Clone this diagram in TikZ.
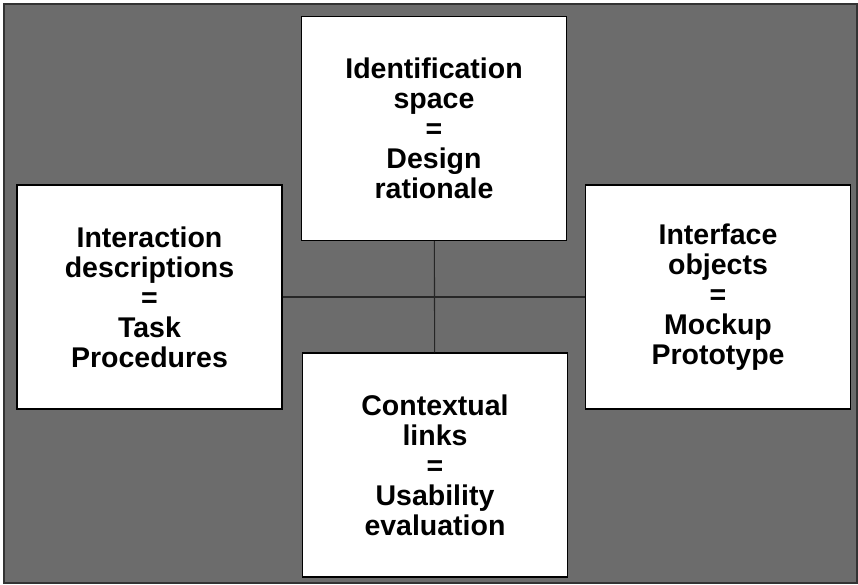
\documentclass[tikz,border=0pt]{standalone}
\usepackage{fontspec}
\setmainfont{Liberation Sans}
\usepackage{tikz}
\usetikzlibrary{positioning}
\definecolor{slateGray}{RGB}{108,108,108}

\begin{document}
\begin{tikzpicture}[x=1pt, y=-1pt,
  panel/.style={draw=black, line width=1.2pt, fill=white, minimum width=265pt, minimum height=224pt,
    align=center, font=\fontsize{28.5}{30}\selectfont\bfseries, inner sep=0pt},
  link/.style={draw=black!85, line width=1.1pt}
]
\useasboundingbox (0,0) rectangle (858,585);

% Textured background
\fill[slateGray] (4,4) rectangle (857,583);
\draw[black!80, line width=1.5pt] (4,4) rectangle (857,583);

% Top
\node[panel] (ident) at (434,128.5)
  {Identification\\space\\=\\Design\\rationale};

% Left
\node[panel] (interact) at (149.5,297)
  {Interaction\\descriptions\\=\\Task\\Procedures};

% Right
\node[panel] (iface) at (718,297)
  {Interface\\objects\\=\\Mockup\\Prototype};

% Bottom
\node[panel] (context) at (435,465)
  {Contextual\\links\\=\\Usability\\evaluation};

% Cross
\draw[link] (interact) -- (iface);
\draw[link] (ident) -- (context);

\end{tikzpicture}
\end{document}
